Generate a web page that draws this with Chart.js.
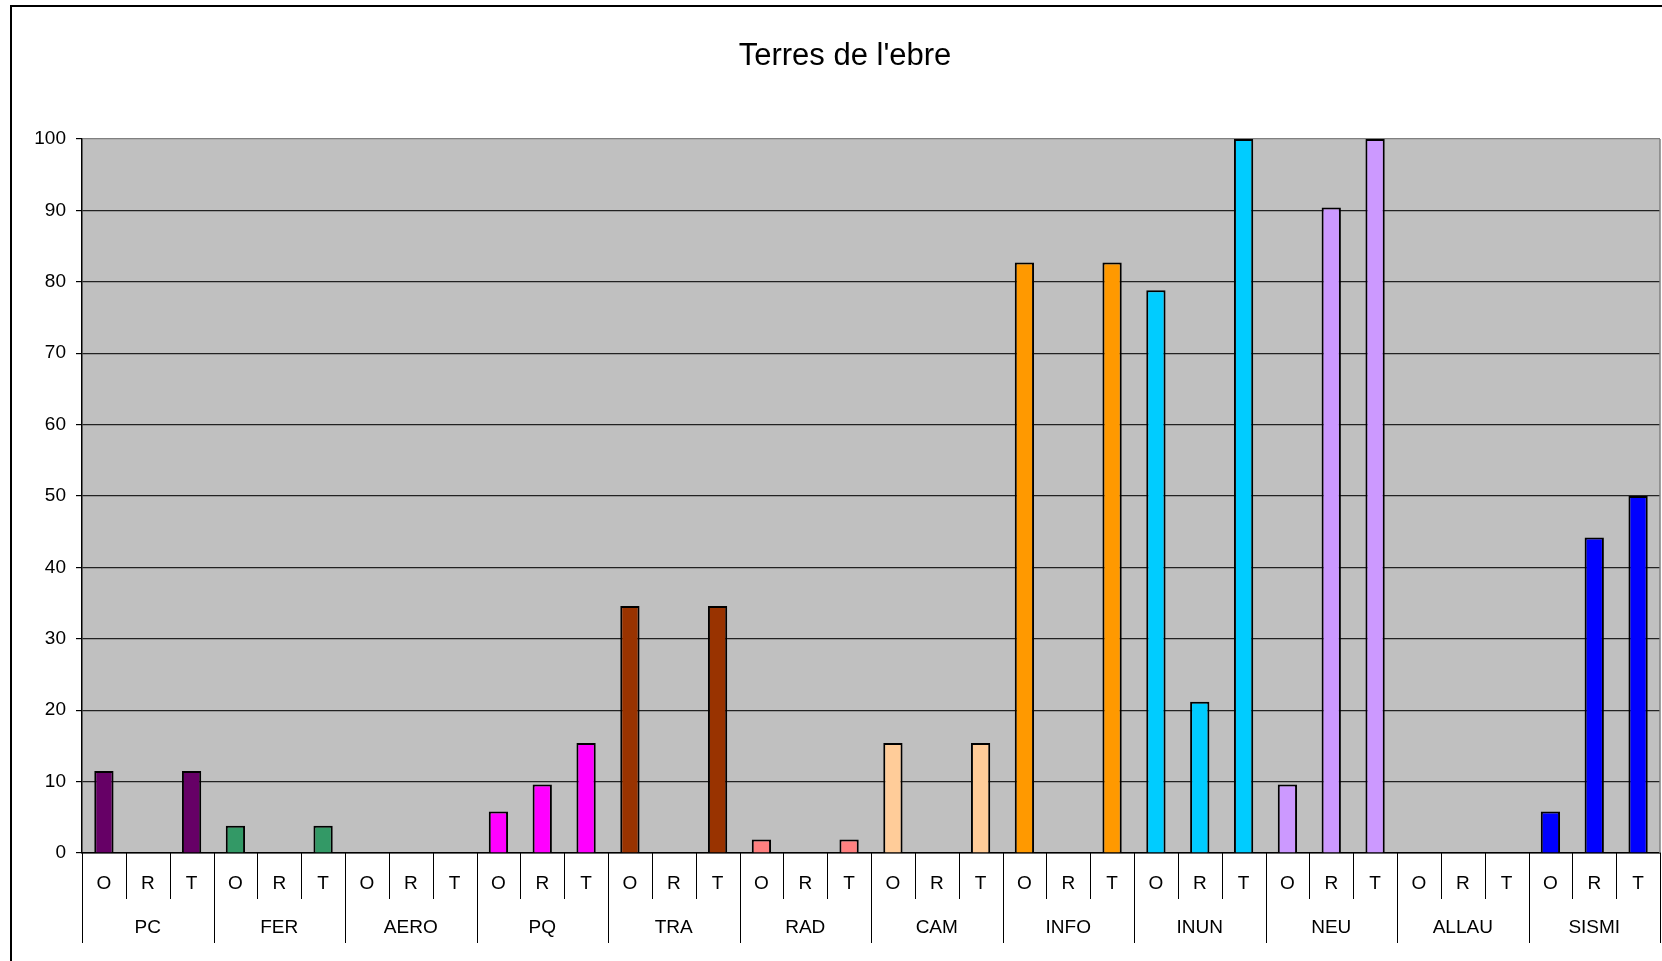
<!DOCTYPE html>
<html>
<head>
<meta charset="utf-8">
<title>Terres de l'ebre</title>
<script src="https://cdn.jsdelivr.net/npm/chart.js@4/dist/chart.umd.min.js"></script>
<style>
    body { margin: 0; background: #fff; }
    #wrap { width: 1662px; height: 961px; }
</style>
</head>
<body>
<div id="wrap"><canvas id="chart" width="1662" height="961"></canvas></div>
<script>
const chartTitle = "Terres de l'ebre";
const groups = ['PC', 'FER', 'AERO', 'PQ', 'TRA', 'RAD', 'CAM', 'INFO', 'INUN', 'NEU', 'ALLAU', 'SISMI'];
const subCategories = ['O', 'R', 'T'];
const valuesO = [11.5, 3.8, 0, 5.8, 34.6, 1.9, 15.4, 82.7, 78.8, 9.6, 0, 5.8];
const valuesR = [0, 0, 0, 9.6, 0, 0, 0, 0, 21.2, 90.4, 0, 44.2];
const valuesT = [11.5, 3.8, 0, 15.4, 34.6, 1.9, 15.4, 82.7, 100, 100, 0, 50];
const groupColors = ['#660066', '#339966', '#969696', '#FF00FF', '#993300', '#FF8080',
    '#FFCC99', '#FF9900', '#00CCFF', '#CC99FF', '#969696', '#0000FF'];
const yTicks = [0, 10, 20, 30, 40, 50, 60, 70, 80, 90, 100];

const FONT = "'Liberation Sans', Arial, sans-serif";

// flatten groups x (O, R, T) into one category list
const labels = [];
const data = [];
const colors = [];
groups.forEach((g, i) => {
    const vals = [valuesO[i], valuesR[i], valuesT[i]];
    subCategories.forEach((s, j) => {
        labels.push(s);
        data.push(vals[j]);
        colors.push(groupColors[i]);
    });
});

const frameAndBackground = {
    id: 'frameAndBackground',
    beforeDraw(chart) {
        const { ctx, chartArea } = chart;
        ctx.save();
        ctx.fillStyle = '#C0C0C0';
        ctx.fillRect(chartArea.left, chartArea.top, chartArea.right - chartArea.left, chartArea.bottom - chartArea.top);

        // outer frame (left and top edges visible)
        ctx.strokeStyle = '#000';
        ctx.lineWidth = 2;
        ctx.beginPath();
        ctx.moveTo(11, chart.height);
        ctx.lineTo(11, 6);
        ctx.lineTo(chart.width, 6);
        ctx.stroke();

        // title
        ctx.fillStyle = '#000';
        ctx.font = '31px ' + FONT;
        ctx.textAlign = 'center';
        ctx.textBaseline = 'alphabetic';
        ctx.fillText(chartTitle, 845, 65);
        ctx.restore();
    },
    afterDraw(chart) {
        const { ctx, chartArea } = chart;
        const x = chart.scales.x;
        const step = x.getPixelForValue(1) - x.getPixelForValue(0);
        ctx.save();

        // plot border on the right
        ctx.strokeStyle = '#808080';
        ctx.lineWidth = 1.5;
        ctx.beginPath();
        ctx.moveTo(chartArea.right, chartArea.top);
        ctx.lineTo(chartArea.right, chartArea.bottom);
        ctx.stroke();

        // separators under the axis
        ctx.strokeStyle = '#000';
        ctx.lineWidth = 1;
        for (let i = 0; i <= labels.length; i++) {
            const px = Math.round(x.getPixelForValue(0) - step / 2 + i * step) + 0.5;
            const isGroupEdge = i % subCategories.length === 0;
            ctx.beginPath();
            ctx.moveTo(px, chartArea.bottom);
            ctx.lineTo(px, isGroupEdge ? chartArea.bottom + 90 : chartArea.bottom + 46);
            ctx.stroke();
        }

        // group names
        ctx.fillStyle = '#000';
        ctx.font = '19px ' + FONT;
        ctx.textAlign = 'center';
        ctx.textBaseline = 'alphabetic';
        groups.forEach((g, i) => {
            const cx = x.getPixelForValue(i * subCategories.length + 1);
            ctx.fillText(g, cx, chartArea.bottom + 80);
        });
        ctx.restore();
    }
};

const chart = new Chart(document.getElementById('chart').getContext('2d'), {
    type: 'bar',
    data: {
        labels: labels,
        datasets: [{
            data: data,
            backgroundColor: colors,
            borderColor: '#000',
            borderWidth: 2,
            barPercentage: 0.44,
            categoryPercentage: 1
        }]
    },
    options: {
        responsive: false,
        animation: false,
        layout: { padding: { top: 139, right: 2, left: 0, bottom: 0 } },
        plugins: {
            legend: { display: false },
            title: { display: false },
            tooltip: { enabled: false }
        },
        scales: {
            x: {
                offset: true,
                grid: { display: false },
                border: { display: true, color: '#000', width: 1.5 },
                ticks: {
                    color: '#000',
                    font: { family: FONT, size: 19 },
                    padding: 11,
                    maxRotation: 0,
                    autoSkip: false
                },
                afterFit(scale) { scale.height = 108; }
            },
            y: {
                min: 0,
                max: 100,
                afterBuildTicks(scale) { scale.ticks = yTicks.map(v => ({ value: v })); },
                grid: {
                    color: ctx => (ctx.tick && ctx.tick.value === 100) ? '#808080' : '#222',
                    lineWidth: 1.2,
                    tickLength: 6,
                    tickColor: '#000'
                },
                border: { display: true, color: '#000', width: 1.5 },
                ticks: {
                    color: '#000',
                    font: { family: FONT, size: 19 },
                    padding: 10
                },
                afterFit(scale) { scale.width = 82; }
            }
        }
    },
    plugins: [frameAndBackground]
});
</script>
</body>
</html>
